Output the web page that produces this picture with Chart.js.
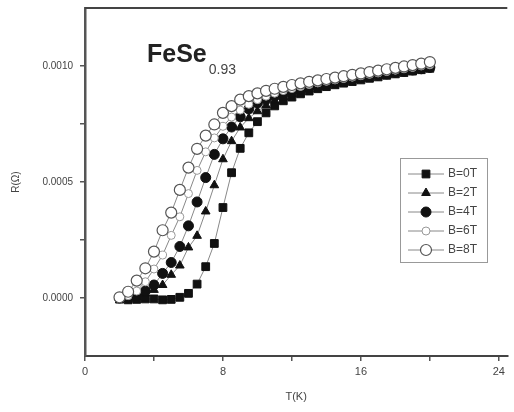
<!DOCTYPE html>
<html><head><meta charset="utf-8">
<script src="https://cdn.jsdelivr.net/npm/chart.js@4/dist/chart.umd.min.js"></script>
<style>html,body{margin:0;padding:0;background:#fff}#wrap{width:514px;height:412px;position:relative}</style>
</head><body><div id="wrap"><canvas id="c" width="514" height="412"></canvas></div>
<script>
const temperatures = [2.0,2.5,3.0,3.5,4.0,4.5,5.0,5.5,6.0,6.5,7.0,7.5,8.0,8.5,9.0,9.5,10.0,10.5,11.0,11.5,12.0,12.5,13.0,13.5,14.0,14.5,15.0,15.5,16.0,16.5,17.0,17.5,18.0,18.5,19.0,19.5,20.0];
const rB0T = [-0.000005,-0.000008,-0.000006,-0.000004,-0.000004,-0.000008,-0.000006,0.000003,0.00002,0.00006,0.000135,0.000235,0.00039,0.00054,0.000645,0.000712,0.00076,0.000798,0.000828,0.00085,0.000866,0.00088,0.000892,0.000902,0.000911,0.000919,0.000926,0.000933,0.00094,0.000947,0.000953,0.00096,0.000966,0.000972,0.000978,0.000984,0.00099];
const rB2T = [0.0,-0.000005,0.000005,0.00002,0.000035,0.000056,0.0001,0.00014,0.000218,0.000268,0.000373,0.000486,0.000598,0.000676,0.000735,0.000775,0.000805,0.00083,0.00085,0.000866,0.000879,0.00089,0.0009,0.000909,0.000917,0.000925,0.000932,0.000939,0.000945,0.000951,0.000957,0.000963,0.000969,0.000975,0.00098,0.000986,0.000992];
const rB4T = [0.0,0.0,0.00001,0.00003,0.000056,0.000106,0.000153,0.000222,0.000311,0.000414,0.000519,0.000619,0.000686,0.000737,0.000781,0.000815,0.00084,0.000857,0.00087,0.000882,0.000892,0.000901,0.00091,0.000917,0.000924,0.000931,0.000937,0.000943,0.000949,0.000955,0.00096,0.000966,0.000972,0.000977,0.000983,0.000988,0.000994];
const rB6T = [0.0,0.00001,0.00003,0.00007,0.000125,0.000185,0.00027,0.00035,0.00045,0.00055,0.00063,0.00069,0.00074,0.00078,0.00081,0.000835,0.000855,0.00087,0.000883,0.000894,0.000903,0.000912,0.00092,0.000927,0.000934,0.00094,0.000946,0.000952,0.000958,0.000964,0.00097,0.000976,0.000982,0.000988,0.000994,0.001,0.001005];
const rB8T = [0.000003,0.000027,0.000075,0.000128,0.0002,0.000292,0.000368,0.000466,0.000562,0.000643,0.0007,0.000748,0.000798,0.000827,0.000855,0.00087,0.000882,0.000893,0.000902,0.00091,0.000918,0.000925,0.000932,0.000938,0.000944,0.00095,0.000956,0.000962,0.000968,0.000974,0.00098,0.000986,0.000992,0.000998,0.001004,0.00101,0.001017];
const seriesLabels = ['B=0T','B=2T','B=4T','B=6T','B=8T'];
const xMin = 0, xMax = 24.49;
const xTickValues = [0,4,8,12,16,20,24];
const xLabelValues = [0,8,16,24];
const yMin = -0.00025, yMax = 0.00125;
const yTickValues = [0,0.00025,0.0005,0.00075,0.001];
const yLabelValues = [0,0.0005,0.001];
const titleMain = 'FeSe';
const titleSub = '0.93';

const styles = [
  {pointStyle:'rect', pointRadius:5.5, backgroundColor:'#111', borderColor:'#111', borderWidth:1},
  {pointStyle:'triangle', pointRadius:5, backgroundColor:'#111', borderColor:'#111', borderWidth:1},
  {pointStyle:'circle', pointRadius:5, backgroundColor:'#111', borderColor:'#111', borderWidth:1},
  {pointStyle:'circle', pointRadius:4, backgroundColor:'#fff', borderColor:'#999', borderWidth:1},
  {pointStyle:'circle', pointRadius:5.5, backgroundColor:'#fff', borderColor:'#555', borderWidth:1.2}
];
const seriesValues = [rB0T, rB2T, rB4T, rB6T, rB8T];

const datasets = seriesValues.map((vals, i) => ({
  label: seriesLabels[i],
  data: temperatures.map((t, k) => ({x: t, y: vals[k]})),
  showLine: true,
  borderColor: '#888',
  borderWidth: 1,
  pointStyle: styles[i].pointStyle,
  pointRadius: styles[i].pointRadius,
  pointBackgroundColor: styles[i].backgroundColor,
  pointBorderColor: styles[i].borderColor,
  pointBorderWidth: styles[i].borderWidth,
  order: 5 - i
}));

function drawMarker(ctx, st, x, y) {
  if (Chart.helpers && Chart.helpers.drawPoint) {
    ctx.save();
    ctx.fillStyle = st.backgroundColor;
    ctx.strokeStyle = st.borderColor;
    ctx.lineWidth = st.borderWidth;
    Chart.helpers.drawPoint(ctx, {pointStyle: st.pointStyle, radius: st.pointRadius, rotation: 0, borderWidth: st.borderWidth}, x, y);
    ctx.restore();
  }
}

const decor = {
  id: 'decor',
  afterDraw(chart) {
    const ctx = chart.ctx, a = chart.chartArea;
    ctx.save();
    ctx.strokeStyle = '#444';
    ctx.lineWidth = 2;
    ctx.beginPath(); ctx.moveTo(a.left, a.top); ctx.lineTo(a.right, a.top); ctx.stroke();
    ctx.fillStyle = '#222';
    ctx.font = 'bold 25px "Liberation Sans", Arial, sans-serif';
    ctx.textBaseline = 'alphabetic';
    ctx.fillText(titleMain, a.left + 62, a.top + 54);
    const w = ctx.measureText(titleMain).width;
    ctx.font = '14px "Liberation Sans", Arial, sans-serif';
    ctx.fillStyle = '#444';
    ctx.fillText(titleSub, a.left + 64 + w, a.top + 66);
    const lx = 400, ly = 158, lw = 87, lh = 104;
    ctx.strokeStyle = '#999';
    ctx.lineWidth = 1;
    ctx.strokeRect(lx + 0.5, ly + 0.5, lw, lh);
    ctx.font = '12px "Liberation Sans", Arial, sans-serif';
    ctx.textBaseline = 'middle';
    seriesLabels.forEach((lab, i) => {
      const y = ly + 16 + i * 19;
      ctx.strokeStyle = '#888';
      ctx.lineWidth = 1;
      ctx.beginPath(); ctx.moveTo(lx + 8, y); ctx.lineTo(lx + 44, y); ctx.stroke();
      drawMarker(ctx, styles[i], lx + 26, y);
      ctx.fillStyle = '#444';
      ctx.fillText(lab, lx + 48, y);
    });
    ctx.restore();
  }
};

new Chart(document.getElementById('c'), {
  type: 'scatter',
  data: {datasets},
  options: {
    responsive: false,
    animation: false,
    devicePixelRatio: 1,
    layout: {padding: {top: 8, right: 0, bottom: 0, left: 0}},
    plugins: {legend: {display: false}, tooltip: {enabled: false}},
    scales: {
      x: {
        type: 'linear', min: xMin, max: xMax,
        afterBuildTicks: s => { s.ticks = xTickValues.map(v => ({value: v})); },
        afterFit: s => { s.height = 56; s.paddingLeft = 0; s.paddingRight = 0; },
        ticks: {
          autoSkip: false, maxRotation: 0, padding: 4,
          color: '#444', font: {size: 11, family: '"Liberation Sans", Arial, sans-serif'},
          callback: v => xLabelValues.includes(v) ? String(v) : ''
        },
        grid: {drawOnChartArea: false, drawTicks: true, tickLength: 5, color: '#555', lineWidth: 1.5},
        border: {color: '#444', width: 2},
        title: {display: true, text: 'T(K)', color: '#444', font: {size: 11, family: '"Liberation Sans", Arial, sans-serif'}, padding: {top: 0, bottom: 8}}
      },
      y: {
        type: 'linear', min: yMin, max: yMax,
        afterBuildTicks: s => { s.ticks = yTickValues.map(v => ({value: v})); },
        afterFit: s => { s.width = 85; s.paddingTop = 0; s.paddingBottom = 0; },
        ticks: {
          autoSkip: false, padding: 7,
          color: '#444', font: {size: 10, family: '"Liberation Sans", Arial, sans-serif'},
          callback: v => yLabelValues.some(l => Math.abs(l - v) < 1e-9) ? v.toFixed(4) : ''
        },
        grid: {drawOnChartArea: false, drawTicks: true, tickLength: 5, color: '#555', lineWidth: 1.5},
        border: {color: '#555', width: 2.5},
        title: {display: true, text: 'R(Ω)', color: '#444', font: {size: 10, family: '"Liberation Sans", Arial, sans-serif'}, padding: {top: 10, bottom: 0}}
      }
    }
  },
  plugins: [decor]
});
</script>
</body></html>
